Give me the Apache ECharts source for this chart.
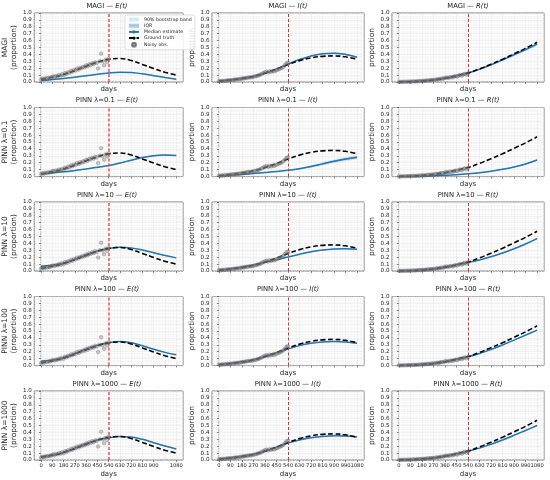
<!DOCTYPE html>
<html><head><meta charset="utf-8">
<script src="https://cdn.jsdelivr.net/npm/echarts@6/dist/echarts.min.js"></script>
<style>html,body{margin:0;padding:0;background:#fff}#c{width:550px;height:480px}</style>
</head><body><div id="c"></div>
<script>
// ---------- data ----------
const xTicks = [0,90,180,270,360,450,540,630,720,810,900,990,1080];
const tGrid  = [0,90,180,270,360,450,540,630,720,810,900,990,1080];
const trainEnd = 540;
const methods = ['MAGI','PINN λ=0.1','PINN λ=10','PINN λ=100','PINN λ=1000'];
const compartments = ['E(t)','I(t)','R(t)'];

const truthE = [0.040,0.068,0.108,0.168,0.230,0.288,0.330,0.340,0.312,0.255,0.195,0.142,0.100];
const truthI = [0.010,0.028,0.050,0.080,0.130,0.185,0.255,0.310,0.350,0.372,0.378,0.365,0.330];
const truthR = [0.000,0.005,0.015,0.030,0.055,0.090,0.130,0.190,0.258,0.330,0.408,0.488,0.575];

const obsT = [0,12,24,36,48,60,72,84,96,108,120,132,144,156,168,180,192,204,216,228,240,252,264,276,288,300,312,324,336,348,360,372,384,396,408,420,432,444,456,468,480,492,504,516,528,540];
const obsE = [0.035,0.048,0.041,0.055,0.050,0.062,0.057,0.070,0.081,0.072,0.088,0.083,0.101,0.092,0.113,0.098,0.128,0.118,0.142,0.135,0.162,0.149,0.175,0.168,0.195,0.181,0.207,0.199,0.221,0.213,0.241,0.229,0.255,0.247,0.271,0.259,0.285,0.276,0.195,0.301,0.410,0.298,0.243,0.322,0.290,0.336];
const obsI = [0.012,0.010,0.016,0.014,0.019,0.020,0.025,0.023,0.030,0.028,0.034,0.036,0.040,0.038,0.046,0.049,0.052,0.056,0.060,0.064,0.068,0.066,0.074,0.079,0.083,0.090,0.097,0.105,0.118,0.130,0.142,0.150,0.138,0.155,0.147,0.160,0.152,0.168,0.175,0.185,0.195,0.205,0.220,0.245,0.270,0.280];
const obsR = [0.001,0.002,0.001,0.003,0.004,0.003,0.005,0.006,0.005,0.008,0.009,0.008,0.011,0.013,0.012,0.016,0.018,0.017,0.022,0.024,0.023,0.028,0.031,0.029,0.036,0.040,0.038,0.046,0.050,0.048,0.060,0.065,0.058,0.068,0.072,0.066,0.080,0.085,0.078,0.095,0.102,0.092,0.110,0.118,0.105,0.125];

// median estimates
const magiE  = [0.022,0.035,0.050,0.068,0.090,0.112,0.130,0.140,0.136,0.118,0.092,0.065,0.040];
const magiI  = [0.010,0.028,0.050,0.080,0.128,0.185,0.258,0.325,0.378,0.408,0.418,0.400,0.360];
const magiR  = [0.000,0.005,0.015,0.030,0.055,0.090,0.130,0.185,0.250,0.320,0.395,0.470,0.550];
const p01E   = [0.040,0.052,0.068,0.088,0.110,0.133,0.160,0.196,0.236,0.275,0.302,0.312,0.305];
const p01I   = [0.008,0.018,0.030,0.043,0.057,0.072,0.090,0.113,0.145,0.183,0.220,0.252,0.278];
const p01R   = [0.000,0.002,0.006,0.011,0.018,0.027,0.040,0.056,0.077,0.104,0.138,0.182,0.240];
const p10E   = [0.070,0.082,0.112,0.168,0.228,0.288,0.326,0.343,0.335,0.305,0.265,0.225,0.190];
const p10I   = [0.010,0.030,0.055,0.088,0.128,0.165,0.202,0.243,0.278,0.303,0.318,0.323,0.315];
const p10R   = [0.000,0.005,0.015,0.030,0.055,0.088,0.122,0.160,0.207,0.260,0.322,0.392,0.470];
const p100E  = [0.062,0.075,0.112,0.170,0.238,0.292,0.330,0.348,0.330,0.285,0.235,0.190,0.155];
const p100I  = [0.010,0.028,0.050,0.080,0.128,0.183,0.238,0.288,0.322,0.342,0.348,0.342,0.322];
const p100R  = [0.000,0.005,0.015,0.030,0.055,0.090,0.128,0.175,0.233,0.298,0.368,0.440,0.512];
const p1000E = [0.048,0.070,0.110,0.170,0.232,0.288,0.322,0.340,0.333,0.300,0.250,0.203,0.160];
const p1000I = [0.010,0.028,0.050,0.080,0.128,0.183,0.245,0.290,0.322,0.342,0.350,0.348,0.335];
const p1000R = [0.000,0.005,0.015,0.030,0.055,0.090,0.128,0.172,0.228,0.290,0.358,0.428,0.500];

// 90% band half-widths
const magiE_w90  = [0.004,0.004,0.004,0.004,0.005,0.005,0.005,0.005,0.005,0.005,0.005,0.005,0.005];
const magiI_w90  = [0.003,0.004,0.005,0.006,0.007,0.008,0.008,0.009,0.010,0.011,0.012,0.013,0.014];
const magiR_w90  = [0.001,0.002,0.003,0.004,0.005,0.006,0.007,0.010,0.014,0.018,0.022,0.026,0.030];
const p01E_w90   = [0.004,0.005,0.006,0.007,0.008,0.009,0.010,0.012,0.012,0.012,0.012,0.012,0.012];
const p01I_w90   = [0.002,0.003,0.004,0.005,0.006,0.007,0.008,0.012,0.017,0.022,0.026,0.029,0.031];
const p01R_w90   = [0.001,0.001,0.002,0.002,0.003,0.003,0.004,0.005,0.006,0.007,0.009,0.011,0.013];
const p10E_w90   = [0.006,0.006,0.006,0.006,0.006,0.006,0.006,0.006,0.006,0.007,0.007,0.007,0.007];
const p10I_w90   = [0.004,0.004,0.004,0.005,0.005,0.005,0.005,0.006,0.006,0.006,0.007,0.007,0.007];
const p10R_w90   = [0.001,0.001,0.002,0.002,0.003,0.003,0.004,0.005,0.006,0.008,0.009,0.011,0.012];
const p100E_w90  = [0.005,0.005,0.005,0.005,0.005,0.005,0.005,0.005,0.005,0.006,0.006,0.006,0.006];
const p100I_w90  = [0.003,0.003,0.004,0.004,0.004,0.005,0.005,0.005,0.006,0.006,0.006,0.006,0.006];
const p100R_w90  = [0.001,0.001,0.002,0.002,0.003,0.003,0.004,0.005,0.006,0.007,0.008,0.009,0.010];
const p1000E_w90 = [0.005,0.005,0.005,0.005,0.005,0.005,0.005,0.005,0.005,0.006,0.006,0.006,0.006];
const p1000I_w90 = [0.003,0.003,0.004,0.004,0.004,0.005,0.005,0.005,0.006,0.006,0.006,0.007,0.007];
const p1000R_w90 = [0.001,0.001,0.002,0.002,0.003,0.003,0.004,0.005,0.006,0.007,0.008,0.009,0.010];

// IQR half-widths
const magiE_iqr  = [0.002,0.002,0.002,0.002,0.002,0.002,0.002,0.002,0.002,0.002,0.002,0.002,0.002];
const magiI_iqr  = [0.001,0.002,0.002,0.002,0.003,0.003,0.003,0.004,0.004,0.004,0.005,0.005,0.006];
const magiR_iqr  = [0.000,0.001,0.001,0.002,0.002,0.002,0.003,0.004,0.006,0.007,0.009,0.010,0.012];
const p01E_iqr   = [0.002,0.002,0.002,0.003,0.003,0.004,0.004,0.005,0.005,0.005,0.005,0.005,0.005];
const p01I_iqr   = [0.001,0.001,0.002,0.002,0.002,0.003,0.003,0.005,0.007,0.009,0.011,0.012,0.013];
const p01R_iqr   = [0.000,0.000,0.001,0.001,0.001,0.001,0.002,0.002,0.002,0.003,0.004,0.004,0.005];
const p10E_iqr   = [0.002,0.002,0.002,0.002,0.002,0.002,0.002,0.002,0.002,0.003,0.003,0.003,0.003];
const p10I_iqr   = [0.002,0.002,0.002,0.002,0.002,0.002,0.002,0.002,0.002,0.002,0.003,0.003,0.003];
const p10R_iqr   = [0.000,0.000,0.001,0.001,0.001,0.001,0.002,0.002,0.002,0.003,0.004,0.004,0.005];
const p100E_iqr  = [0.002,0.002,0.002,0.002,0.002,0.002,0.002,0.002,0.002,0.002,0.002,0.002,0.002];
const p100I_iqr  = [0.001,0.001,0.002,0.002,0.002,0.002,0.002,0.002,0.002,0.002,0.002,0.002,0.002];
const p100R_iqr  = [0.000,0.000,0.001,0.001,0.001,0.001,0.002,0.002,0.002,0.003,0.003,0.004,0.004];
const p1000E_iqr = [0.002,0.002,0.002,0.002,0.002,0.002,0.002,0.002,0.002,0.002,0.002,0.002,0.002];
const p1000I_iqr = [0.001,0.001,0.002,0.002,0.002,0.002,0.002,0.002,0.002,0.002,0.002,0.003,0.003];
const p1000R_iqr = [0.000,0.000,0.001,0.001,0.001,0.001,0.002,0.002,0.002,0.003,0.003,0.004,0.004];

// ---------- lookup tables built from the arrays ----------
const truths = [truthE, truthI, truthR];
const obsVals = [obsE, obsI, obsR];
const medians = [[magiE,magiI,magiR],[p01E,p01I,p01R],[p10E,p10I,p10R],[p100E,p100I,p100R],[p1000E,p1000I,p1000R]];
const w90s = [[magiE_w90,magiI_w90,magiR_w90],[p01E_w90,p01I_w90,p01R_w90],[p10E_w90,p10I_w90,p10R_w90],[p100E_w90,p100I_w90,p100R_w90],[p1000E_w90,p1000I_w90,p1000R_w90]];
const iqrs = [[magiE_iqr,magiI_iqr,magiR_iqr],[p01E_iqr,p01I_iqr,p01R_iqr],[p10E_iqr,p10I_iqr,p10R_iqr],[p100E_iqr,p100I_iqr,p100R_iqr],[p1000E_iqr,p1000I_iqr,p1000R_iqr]];

// minor ticks: 4 divisions per major step (matplotlib AutoMinorLocator)
const xMinor = [];
for (let i = -1; i < xTicks.length; i++) {
  const a = i < 0 ? xTicks[0] - 90 : xTicks[i];
  for (let k = 1; k < 4; k++) xMinor.push(a + k * 22.5);
}

// ---------- layout ----------
const FONT = 'DejaVu Sans';
const colLeft = [31, 212, 392], gridW = 152;
const rowTop = [13, 107.5, 202, 296.5, 391], gridH = 69;
const XMIN = -54, XMAX = 1134;
const BLUE = '#1f77b4';

const grids = [], xAxes = [], yAxes = [], series = [], graphics = [];

function bandRender(med, w, fill) {
  return function (params, api) {
    const up = [], lo = [];
    for (let i = 0; i < tGrid.length; i++) {
      up.push(api.coord([tGrid[i], med[i] + w[i]]));
      lo.push(api.coord([tGrid[i], Math.max(0, med[i] - w[i])]));
    }
    return { type: 'polygon', shape: { points: up.concat(lo.reverse()) }, style: { fill: fill } };
  };
}

for (let r = 0; r < 5; r++) {
  for (let c = 0; c < 3; c++) {
    const gi = r * 3 + c;
    grids.push({ left: colLeft[c], top: rowTop[r], width: gridW, height: gridH,
      show: true, borderColor: '#555', borderWidth: 0.8 });
    xAxes.push({
      type: 'value', gridIndex: gi, min: XMIN, max: XMAX, position: 'bottom',
      axisLine: { show: false },
      axisTick: { show: true, customValues: xTicks, length: 2, lineStyle: { color: '#333', width: 0.6 } },
      axisLabel: { show: r === 4, customValues: xTicks, fontSize: 5.2, color: '#222', margin: 3,
        fontFamily: FONT, showMinLabel: true, showMaxLabel: true, hideOverlap: false,
        formatter: v => String(v) },
      splitLine: { show: true, lineStyle: { color: '#e2e2e2', width: 0.5 } },
      name: 'days', nameLocation: 'middle', nameGap: r === 4 ? 11 : 4,
      nameTextStyle: { fontSize: 7, color: '#222', fontFamily: FONT }
    });
    xAxes.push({
      type: 'value', gridIndex: gi, min: XMIN, max: XMAX, position: 'bottom',
      axisLine: { show: false },
      axisTick: { show: true, customValues: xMinor, length: 1, lineStyle: { color: '#555', width: 0.4 } },
      axisLabel: { show: false },
      splitLine: { show: true, lineStyle: { color: '#f1f1f1', width: 0.5 } }
    });
    yAxes.push({
      type: 'value', gridIndex: gi, min: 0, max: 1, interval: 0.1,
      axisLine: { show: false },
      axisTick: { length: 2, lineStyle: { color: '#333', width: 0.6 } },
      axisLabel: { fontSize: 5.6, color: '#222', margin: 2.5, fontFamily: FONT, formatter: v => v.toFixed(1) },
      splitLine: { show: true, lineStyle: { color: '#e2e2e2', width: 0.5 } },
      minorTick: { show: true, splitNumber: 5, length: 1, lineStyle: { color: '#555', width: 0.4 } },
      minorSplitLine: { show: true, lineStyle: { color: '#f3f3f3', width: 0.5 } },
      name: c === 0 ? methods[r] + '\n(proportion)' : 'proportion',
      nameLocation: 'middle', nameGap: c === 0 ? 12 : 14,
      nameTextStyle: { fontSize: 7.5, lineHeight: 9, color: '#222', fontFamily: FONT }
    });
    const xi = gi * 2, yi = gi;
    const med = medians[r][c];
    series.push({
      type: 'custom', name: '90% bootstrap band', xAxisIndex: xi, yAxisIndex: yi,
      data: [[0, 0]], itemStyle: { color: 'rgba(31,119,180,0.16)' },
      renderItem: bandRender(med, w90s[r][c], 'rgba(31,119,180,0.16)'), z: 2
    });
    series.push({
      type: 'custom', name: 'IQR', xAxisIndex: xi, yAxisIndex: yi,
      data: [[0, 0]], itemStyle: { color: 'rgba(31,119,180,0.38)' },
      renderItem: bandRender(med, iqrs[r][c], 'rgba(31,119,180,0.38)'), z: 2
    });
    series.push({
      type: 'line', name: 'Median estimate', xAxisIndex: xi, yAxisIndex: yi,
      data: tGrid.map((t, i) => [t, med[i]]), smooth: 0.4, symbol: 'none', showSymbol: false,
      lineStyle: { color: BLUE, width: 1.5 }, itemStyle: { color: BLUE }, z: 3
    });
    series.push({
      type: 'line', name: 'Ground truth', xAxisIndex: xi, yAxisIndex: yi,
      data: tGrid.map((t, i) => [t, truths[c][i]]), smooth: 0.4, symbol: 'none', showSymbol: false,
      lineStyle: { color: '#000', width: 1.6, type: [5, 2.5] }, itemStyle: { color: '#000' }, z: 4
    });
    series.push({
      type: 'scatter', name: 'Noisy obs.', xAxisIndex: xi, yAxisIndex: yi,
      data: obsT.map((t, i) => [t, obsVals[c][i]]), symbolSize: 3.6,
      itemStyle: { color: 'rgba(140,140,140,0.55)', borderColor: 'rgba(60,60,60,0.75)', borderWidth: 0.4 }, z: 5,
      markLine: {
        silent: true, symbol: ['none', 'none'], label: { show: false }, animation: false,
        data: [{ xAxis: trainEnd }],
        lineStyle: c === 0 ? { color: 'rgba(235,60,60,0.65)', type: [3, 2], width: 2 }
                           : { color: '#e03030', type: [3, 2], width: 1 }
      }
    });
    graphics.push({
      type: 'text', x: colLeft[c] + gridW / 2, y: rowTop[r] - 7,
      style: {
        text: methods[r] + ' — {i|' + compartments[c] + '}',
        rich: { i: { fontStyle: 'italic', fontSize: 6.8, fontFamily: FONT, fill: '#222' } },
        fontSize: 6.8, fontFamily: FONT, fill: '#222',
        align: 'center', verticalAlign: 'middle', textAlign: 'center', textVerticalAlign: 'middle'
      }
    });
  }
}

const chart = echarts.init(document.getElementById('c'), null, { renderer: 'canvas' });
chart.setOption({
  animation: false,
  backgroundColor: '#fff',
  textStyle: { fontFamily: FONT },
  grid: grids, xAxis: xAxes, yAxis: yAxes, series: series, graphic: graphics,
  legend: {
    data: [
      { name: '90% bootstrap band', icon: 'rect' },
      { name: 'IQR', icon: 'rect' },
      'Median estimate', 'Ground truth',
      { name: 'Noisy obs.', icon: 'circle', itemStyle: { color: 'rgba(120,120,120,0.8)' } }
    ],
    orient: 'vertical', left: 125, top: 15, itemWidth: 10, itemHeight: 4, itemGap: 1.2,
    textStyle: { fontSize: 4.7, color: '#222', fontFamily: FONT },
    backgroundColor: 'rgba(255,255,255,0.85)', borderColor: '#ccc', borderWidth: 0.6,
    borderRadius: 2, padding: [2, 3], selectedMode: false, z: 10
  }
});
</script></body></html>
